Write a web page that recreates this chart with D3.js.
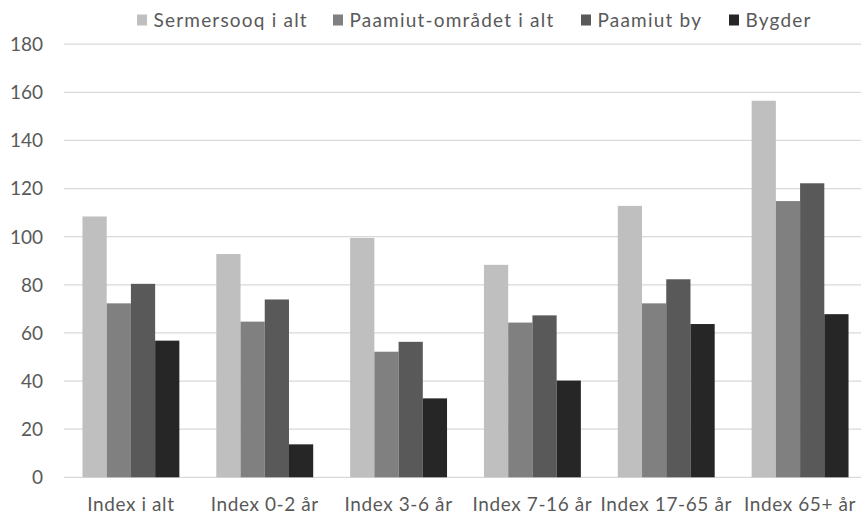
<!DOCTYPE html>
<html><head><meta charset="utf-8">
<script src="https://cdn.jsdelivr.net/npm/d3@7"></script>
<style>body{margin:0;background:#fff}svg{display:block}text{font-family:Lato,'Open Sans',sans-serif;fill:#595959}</style>
</head><body><svg id="c" width="861" height="514"></svg>
<script>
const categories = ["Index i alt","Index 0-2 år","Index 3-6 år","Index 7-16 år","Index 17-65 år","Index 65+ år"];
const seriesNames = ["Sermersooq i alt","Paamiut-området i alt","Paamiut by","Bygder"];
const sermersooq = [108.4, 92.8, 99.5, 88.3, 112.8, 156.5];
const paamiutOmraadet = [72.3, 64.7, 52.2, 64.3, 72.3, 114.8];
const paamiutBy = [80.4, 73.9, 56.3, 67.3, 82.3, 122.2];
const bygder = [56.8, 13.7, 32.8, 40.2, 63.7, 67.8];
const yTicks = [0,20,40,60,80,100,120,140,160,180];
const colors = ["#bfbfbf","#808080","#595959","#262626"];
const series = [sermersooq, paamiutOmraadet, paamiutBy, bygder];

const svg = d3.select("#c");
const x0 = d3.scaleBand().domain(categories).range([64, 867]).paddingInner(0.276).paddingOuter(0.138);
const x1 = d3.scaleBand().domain(seriesNames).range([0, x0.bandwidth()]);
const y = d3.scaleLinear().domain([0,180]).range([477.3, 44.2]);

// gridlines
svg.append("g").selectAll("line").data(yTicks).join("line")
  .attr("x1", 64).attr("x2", 861)
  .attr("y1", d => y(d)).attr("y2", d => y(d))
  .attr("stroke", "#d9d9d9").attr("stroke-width", 1.3);

// y labels
svg.append("g").selectAll("text").data(yTicks).join("text")
  .attr("x", 43).attr("y", d => y(d)).attr("dy", "0.36em")
  .attr("text-anchor", "end").attr("font-size", 19).text(d => d);

// bars
const g = svg.append("g");
series.forEach((vals, si) => {
  g.append("g").selectAll("rect").data(vals).join("rect")
    .attr("x", (d,i) => x0(categories[i]) + x1(seriesNames[si]))
    .attr("width", x1.bandwidth())
    .attr("y", d => y(d))
    .attr("height", d => y(0) - y(d))
    .attr("fill", colors[si]);
});

// x labels
svg.append("g").selectAll("text").data(categories).join("text")
  .attr("x", d => x0(d) + x0.bandwidth()/2).attr("y", 511)
  .attr("text-anchor", "middle").attr("font-size", 19).attr("letter-spacing", 0.6).text(d => d);

// legend
const legX = [137, 333, 581, 729];
const leg = svg.append("g");
seriesNames.forEach((n, i) => {
  leg.append("rect").attr("x", legX[i]).attr("y", 14.5).attr("width", 10).attr("height", 11).attr("fill", colors[i]);
  leg.append("text").attr("x", legX[i] + 16.5).attr("y", 27).attr("font-size", 19).attr("letter-spacing", 1.2).text(n);
});
</script></body></html>
